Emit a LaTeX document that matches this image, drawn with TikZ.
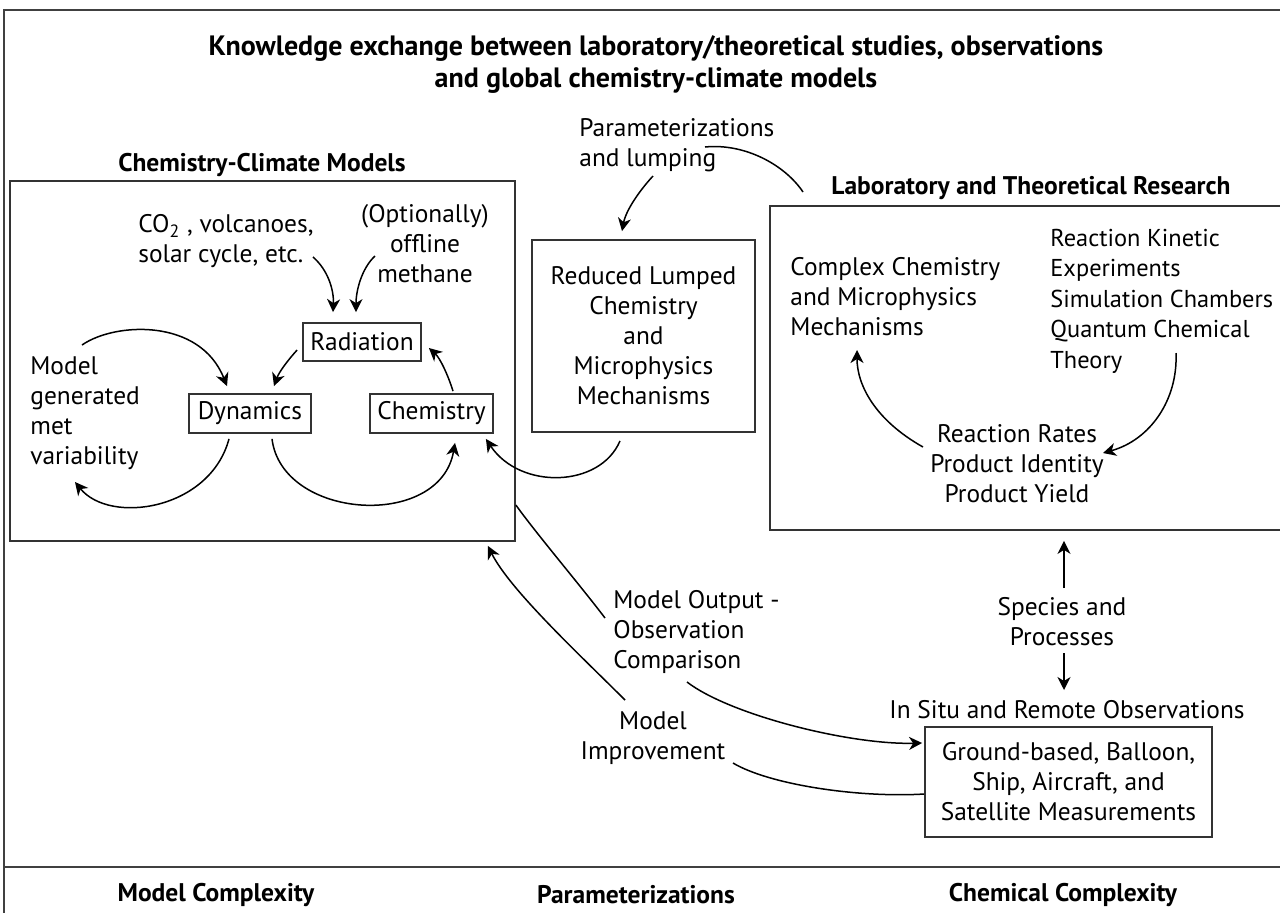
\documentclass[tikz,border=0pt]{standalone}
\usepackage{fontspec}
\setmainfont{PT Sans}
\usetikzlibrary{arrows.meta,calc}
\begin{document}
\begin{tikzpicture}[x=0.5pt,y=-0.5pt,
  txt/.style={font=\fontsize{12.7}{15}\selectfont, inner sep=0pt, align=center},
  ltxt/.style={font=\fontsize{12.7}{15}\selectfont, inner sep=0pt, align=left},
  head/.style={font=\fontsize{12.75}{16}\selectfont\bfseries, inner sep=0pt, align=center},
  ttl/.style={font=\fontsize{14}{16}\selectfont\bfseries, inner sep=0pt, align=center},
  box/.style={draw=black!80, line width=0.9pt, inner sep=0pt, font=\fontsize{12.7}{15}\selectfont, align=center},
  frame/.style={draw=black!75, line width=0.9pt},
  arr/.style={draw, line width=0.75pt, -{Stealth[length=6.5pt,width=6.5pt,inset=2pt]}},
  lin/.style={draw, line width=0.75pt}
]
\useasboundingbox (0,0) rectangle (1280,912);
% frame
\draw[frame] (1290,10) -- (4,10) -- (4,920);
\draw[frame] (4,867) -- (1290,867);

% title
\node[ttl] (title) at (656,64) {Knowledge exchange between laboratory/theoretical studies, observations\\and global chemistry-climate models};

% Chemistry-Climate Models
\node[head] (ccmlabel) at (262,165) {Chemistry-Climate Models};
\node[box, minimum width=252.5pt, minimum height=180pt] (ccm) at (262.5,361) {};
\node[ltxt, anchor=west] (co2) at (138,241.5) {CO\textsubscript{2} , volcanoes,\\solar cycle, etc.};
\node[txt] (opt) at (425,243.5) {(Optionally)\\offline\\methane};
\node[box, minimum width=59pt, minimum height=19pt] (rad) at (362,342) {Radiation};
\node[box, minimum width=61pt, minimum height=19.5pt] (dyn) at (250,413.5) {Dynamics};
\node[box, minimum width=61.5pt, minimum height=19.5pt] (chem) at (431.5,413.5) {Chemistry};
\node[ltxt, anchor=west] (met) at (30,413) {Model\\generated\\met\\variability};

% Reduced
\node[box, minimum width=111.5pt, minimum height=96pt] (red) at (643.5,336) {Reduced Lumped\\Chemistry\\and\\Microphysics\\Mechanisms};
\node[ltxt, anchor=west] (param) at (579,145) {Parameterizations\\and lumping};

% Lab
\node[head] (lablabel) at (1031,188) {Laboratory and Theoretical Research};
\node[box, minimum width=260pt, minimum height=162pt] (lab) at (1030,368) {};
\node[ltxt, anchor=west] (complex) at (790,297) {Complex Chemistry\\and Microphysics\\Mechanisms};
\node[ltxt, anchor=west, font=\fontsize{12.2}{15.25}\selectfont] (kin) at (1050,301) {Reaction Kinetic\\Experiments\\Simulation Chambers\\Quantum Chemical\\Theory};
\node[txt] (rates) at (1017,464) {Reaction Rates\\Product Identity\\Product Yield};

% Observations
\node[txt] (species) at (1062,622) {Species and\\Processes};
\node[txt] (insitu) at (1067,710) {In Situ and Remote Observations};
\node[box, minimum width=143.5pt, minimum height=55pt] (obs) at (1068.5,782) {Ground-based, Balloon,\\Ship, Aircraft, and\\Satellite Measurements};
\node[ltxt, anchor=west] (mout) at (613,632) {Model Output -\\Observation\\Comparison};
\node[txt] (mimp) at (653,738) {Model\\Improvement};

% bottom labels
\node[head] (bl1) at (216,895) {Model Complexity};
\node[head] (bl2) at (636,895) {Parameterizations};
\node[head] (bl3) at (1063,895) {Chemical Complexity};

% coordinates at text ends
\coordinate (co2e) at (313,257);
\coordinate (opte) at (375,256);
\coordinate (mets) at (82,345);
\coordinate (mete) at (75,482);
\coordinate (pars) at (705,147);
\coordinate (labl) at (803,192);
\coordinate (lump) at (653,176);
\coordinate (rrs) at (923,447);
\coordinate (cpe) at (857,350);
\coordinate (ths) at (1176,353);
\coordinate (rre) at (1103,453);
\coordinate (spu) at (1064,588);
\coordinate (spd) at (1064,653);
\coordinate (ise) at (1064,690);
\coordinate (mo1) at (605,618);
\coordinate (mo2) at (687,682);
\coordinate (mi1) at (733,763);
\coordinate (mi2) at (625,700);

% CCM internal arrows
\draw[arr] (co2e) .. controls (328,270) and (334,290) .. ($(rad.north)+(-29,-10)$);
\draw[arr] (opte) .. controls (362,268) and (356,290) .. ($(rad.north)+(-6,-10)$);
\draw[arr] ($(rad.west)+(-5,8)$) .. controls (288,360) and (279,372) .. ($(dyn.north)+(24,-7)$);
\draw[arr] (mets) .. controls (115,322) and (200,318) .. ($(dyn.north)+(-23,-7)$);
\draw[arr] ($(dyn.south)+(-21,5)$) .. controls (210,510) and (110,525) .. (mete);
\draw[arr] ($(dyn.south)+(22,5)$) .. controls (282,520) and (440,530) .. ($(chem.south)+(23.5,9)$);
\draw[arr] ($(chem.north)+(21.5,-2)$) .. controls (448,375) and (440,358) .. ($(rad.east)+(7,6)$);

% Reduced to Chemistry
\draw[arr] ($(red.south)+(-23.5,8)$) .. controls (600,488) and (520,490) .. ($(chem.south east)+(-8,5)$);

% Parameterizations
\draw[lin] (pars) .. controls (745,143) and (785,165) .. (labl);
\draw[arr] (lump) .. controls (640,190) and (626,210) .. ($(red.north)+(-21.5,-8)$);

% Lab internal
\draw[arr] (rrs) .. controls (875,420) and (857,385) .. (cpe);
\draw[arr] (ths) .. controls (1178,400) and (1150,440) .. (rre);

% species
\draw[arr] (spu) -- ($(lab.south)+(34,10)$);
\draw[arr] (spd) -- (ise);

% model output comparison
\draw[lin] ($(ccm.east)+(0,144)$) .. controls (535,532) and (580,585) .. (mo1);
\draw[arr] (mo2) .. controls (730,715) and (850,745) .. ($(obs.west)+(-2,-39)$);

% model improvement
\draw[lin] ($(obs.west)+(0,12)$) .. controls (860,798) and (770,785) .. (mi1);
\draw[arr] (mi2) .. controls (580,655) and (510,590) .. ($(ccm.south east)+(-28,4)$);
\end{tikzpicture}
\end{document}
